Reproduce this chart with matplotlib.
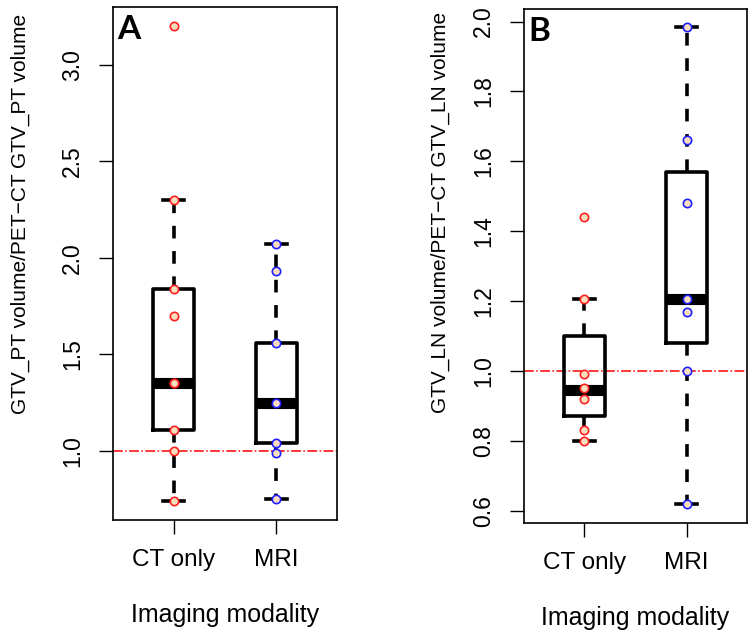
import matplotlib.pyplot as plt

plt.rcParams['font.family'] = ['Liberation Sans', 'DejaVu Sans']

groups = ['CT only', 'MRI']

# panel A: primary tumour volume ratio
pt_ct = [3.20, 2.30, 1.84, 1.70, 1.35, 1.35, 1.11, 1.00, 0.74]
pt_mri = [2.07, 1.93, 1.56, 1.25, 1.04, 0.99, 0.75]
pt_whislo = [0.74, 0.75]
pt_q1 = [1.11, 1.04]
pt_med = [1.35, 1.25]
pt_q3 = [1.84, 1.56]
pt_whishi = [2.30, 2.07]

# panel B: lymph node volume ratio
ln_ct = [1.44, 1.205, 0.99, 0.95, 0.92, 0.83, 0.80]
ln_mri = [1.985, 1.66, 1.48, 1.205, 1.17, 1.00, 0.62]
ln_whislo = [0.80, 0.62]
ln_q1 = [0.87, 1.08]
ln_med = [0.945, 1.205]
ln_q3 = [1.10, 1.57]
ln_whishi = [1.205, 1.985]

pt_ticks = [1.0, 1.5, 2.0, 2.5, 3.0]
ln_ticks = [0.6, 0.8, 1.0, 1.2, 1.4, 1.6, 1.8, 2.0]

W, H = 754, 636
point_fill = '#F9DDBF'
edge_colors = ['#FF2020', '#2020FF']


def draw_panel(ax, ct, mri, whislo, q1, med, q3, whishi, ticks, ylim, letter):
    stats = []
    for i in range(len(groups)):
        stats.append({'whislo': whislo[i], 'q1': q1[i], 'med': med[i],
                      'q3': q3[i], 'whishi': whishi[i], 'fliers': []})
    ax.bxp(stats, positions=[1, 2], widths=0.4, capwidths=0.2, showfliers=False,
           boxprops=dict(color='black', linewidth=2.6),
           whiskerprops=dict(color='black', linewidth=2.6, linestyle=(0, (3.5, 3.5))),
           capprops=dict(color='black', linewidth=2.6),
           medianprops=dict(color='black', linewidth=8, solid_capstyle='butt'))
    ax.axhline(1.0, color='#FF0000', linewidth=1.1, linestyle='-.', zorder=1)
    for i, vals in enumerate([ct, mri]):
        ax.plot([i + 1] * len(vals), vals, 'o', markersize=6, markerfacecolor=point_fill,
                markeredgecolor=edge_colors[i], markeredgewidth=1.2, zorder=5)
    ax.set_xlim(0.41, 2.59)
    ax.set_ylim(*ylim)
    ax.set_xticks([1, 2])
    ax.set_xticklabels(groups, fontsize=17.5)
    ax.set_yticks(ticks)
    ax.set_yticklabels([f'{t:.1f}' for t in ticks], fontsize=16.5, rotation=90, va='center')
    ax.tick_params(axis='both', length=10, width=1, direction='out')
    ax.tick_params(axis='y', pad=11)
    ax.tick_params(axis='x', pad=11)
    for s in ax.spines.values():
        s.set_linewidth(1.2)
    ax.text(0.02, 0.985, letter, transform=ax.transAxes, ha='left', va='top',
            fontsize=24, fontweight='bold', family=['Lato', 'DejaVu Sans'])


fig = plt.figure(figsize=(W / 100, H / 100), dpi=100)
ax_a = fig.add_axes([113 / W, 1 - 520 / H, (337 - 113) / W, (520 - 7) / H])
ax_b = fig.add_axes([524 / W, 1 - 523 / H, (747 - 524) / W, (523 - 9) / H])

draw_panel(ax_a, pt_ct, pt_mri, pt_whislo, pt_q1, pt_med, pt_q3, pt_whishi,
           pt_ticks, (0.642, 3.30), 'A')
draw_panel(ax_b, ln_ct, ln_mri, ln_whislo, ln_q1, ln_med, ln_q3, ln_whishi,
           ln_ticks, (0.565, 2.036), 'B')

fig.text(20 / W, 1 - 214 / H, 'GTV_PT volume/PET\u2212CT GTV_PT volume', rotation=90,
         ha='center', va='center', fontsize=15)
fig.text(440 / W, 1 - 212 / H, 'GTV_LN volume/PET\u2212CT GTV_LN volume', rotation=90,
         ha='center', va='center', fontsize=15)
fig.text(225 / W, 1 - 615 / H, 'Imaging modality', ha='center', va='center', fontsize=18)
fig.text(635 / W, 1 - 618 / H, 'Imaging modality', ha='center', va='center', fontsize=18)

fig.savefig('out.png', dpi=100)
